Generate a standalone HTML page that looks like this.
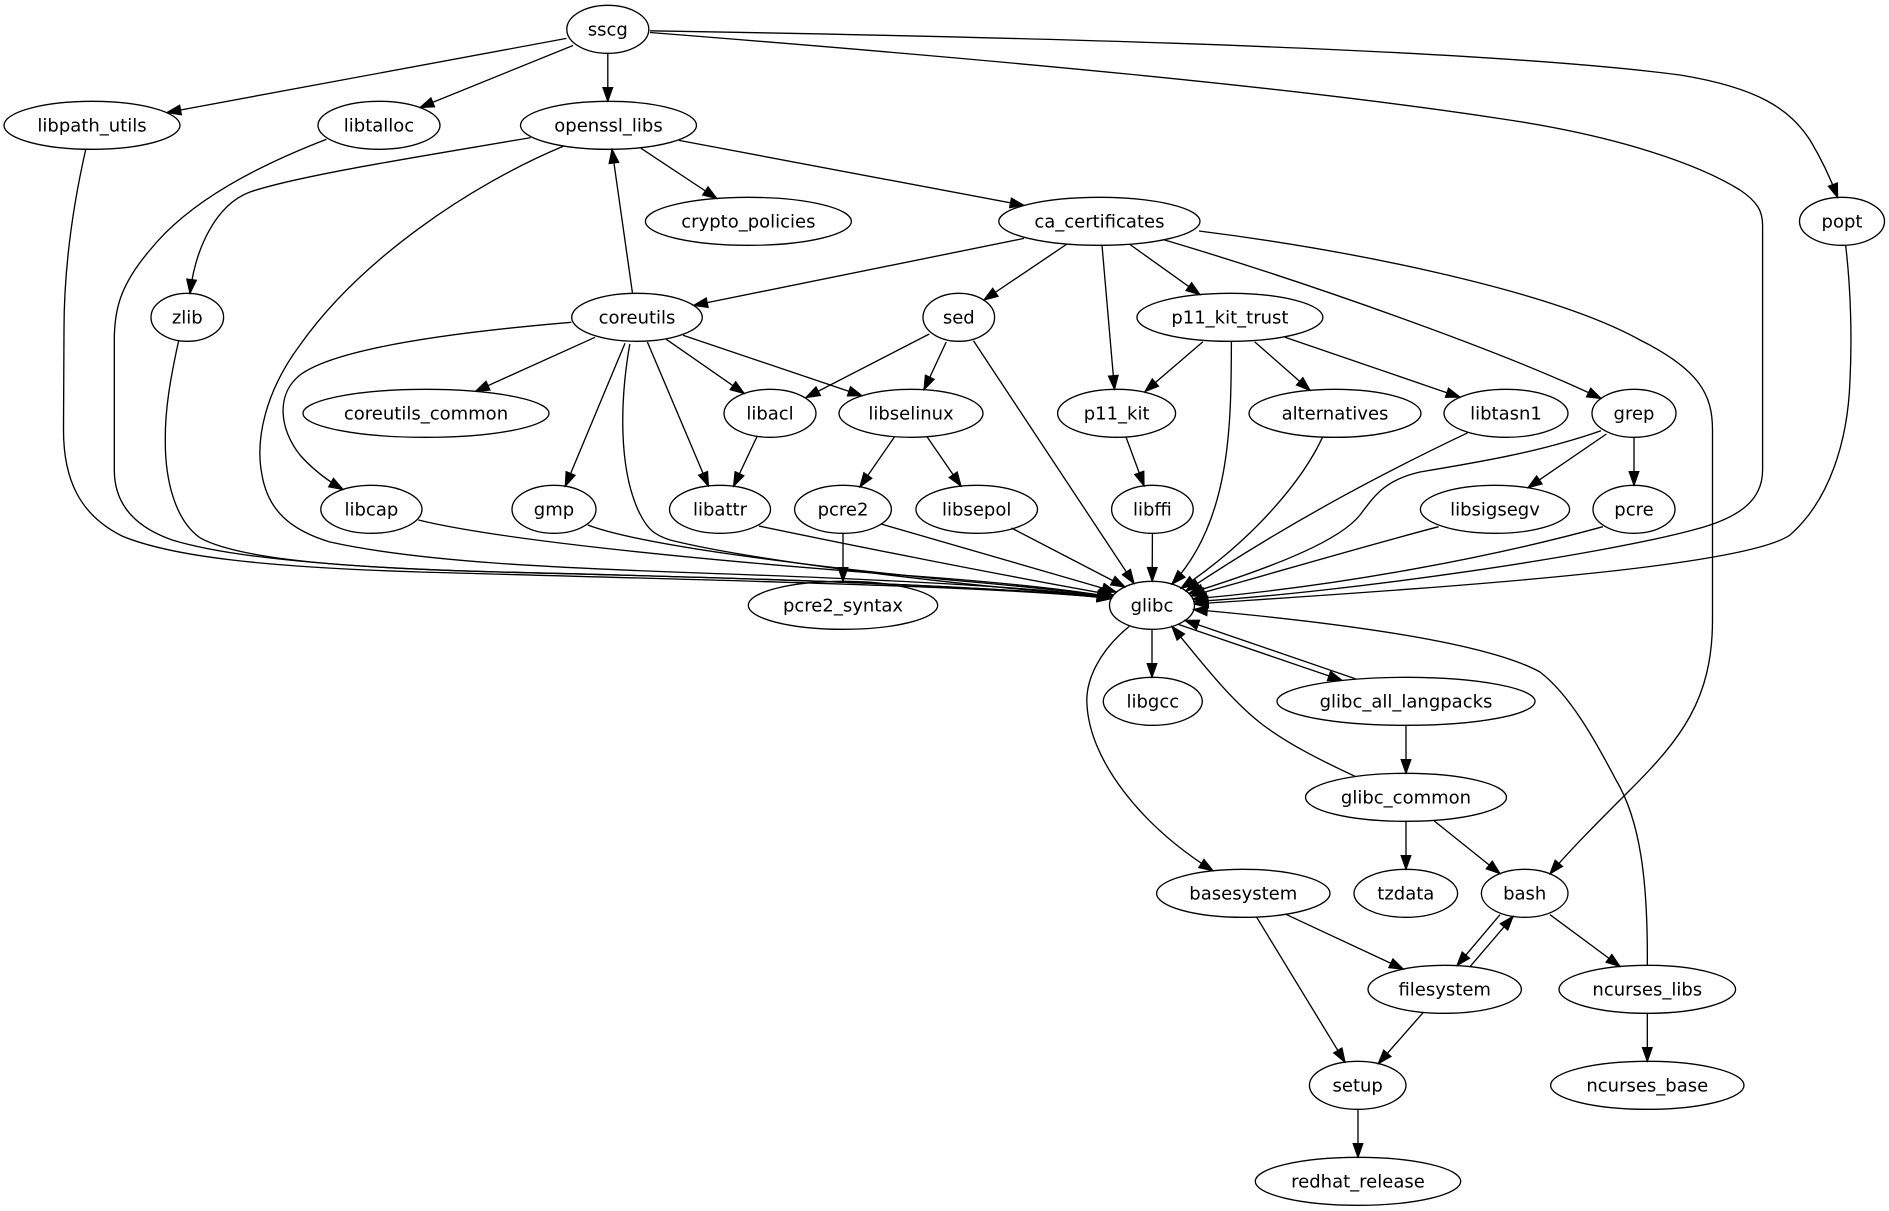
<!DOCTYPE html>
<html><head><meta charset="utf-8"><style>
html,body{margin:0;padding:0;background:#fff;}
svg{display:block;}
text{font-family:"DejaVu Sans","Liberation Sans",sans-serif;font-size:18px;text-anchor:middle;fill:#000;}
.n ellipse{fill:none;stroke:#000;stroke-width:1.33;}
.e path{fill:none;stroke:#000;stroke-width:1.33;marker-end:url(#ah);}
</style></head><body>
<svg width="1889" height="1211" viewBox="0 0 1889 1211" xmlns="http://www.w3.org/2000/svg">
<defs>
<marker id="ah" markerUnits="userSpaceOnUse" markerWidth="16" markerHeight="12" viewBox="-1 -1 15.5 11.5" refX="13.3" refY="4.67" orient="auto">
<path d="M0,0 L13.3,4.67 L0,9.33 Z" fill="#000" stroke="#000" stroke-width="1.2"/>
</marker>
</defs>
<g class="e">
<path d="M566.5,38.4 L167,112.5"/>
<path d="M573,45.5 L420,107.5"/>
<path d="M607.8,53.3 L607.8,101.3"/>
<path d="M650,32.5 C1000,60 1300,88 1500,118.6 C1620,136 1700,165 1740,190 C1758,202 1762.6,212 1762.6,225 L1762.6,470 C1762.6,500 1740,518 1693,530 C1600,555 1350,592 1194.3,601.6"/>
<path d="M650,30.8 C900,35 1450,45 1680,75 C1760,88 1790,110 1810,140 C1825,165 1833,185 1837.6,197.5"/>
<path d="M530.6,137.6 C430,155 300,175 250,192 C215,205 195,250 190,293.3"/>
<path d="M563.3,146.3 C470,185 360,260 300,345 C265,392 255,440 262,475 C268,510 290,530 330,542 C420,562 560,568 700,573 C900,580 1050,588 1111,598"/>
<path d="M641,148.3 L716.8,198.5"/>
<path d="M679,140.4 L1024,205.4"/>
<path d="M632.6,294 L612,149.3"/>
<path d="M1024,238.4 L693.7,305.4"/>
<path d="M1067,244 L984,300"/>
<path d="M1102,245.3 L1114.5,389.4"/>
<path d="M1130,244.5 L1200,294.6"/>
<path d="M1163,239.5 C1300,280 1500,350 1601,398.5"/>
<path d="M1199,231 C1350,250 1550,290 1640,340 C1700,370 1712.5,395 1712.5,430 L1712.5,620 C1712.5,700 1680,740 1630,790 C1600,820 1570,850 1550,873.8"/>
<path d="M571.4,322.3 C480,330 340,345 300,375 C275,395 280,430 300,455 C315,472 330,482 343,489.4"/>
<path d="M595,337.3 L475.5,391.3"/>
<path d="M625,343.2 L565.3,486.2"/>
<path d="M629.8,344 C620,400 618,470 640,514 C648,530 655,535 670,540 C750,560 950,585 1112,597"/>
<path d="M647.4,342 L708.4,486"/>
<path d="M666.3,339.3 L744.2,393.5"/>
<path d="M683,335.3 L862,395.7"/>
<path d="M929.3,334 L806,397.5"/>
<path d="M946.2,342 L924,389.7"/>
<path d="M973.5,340.8 L1134,583.5"/>
<path d="M1202.9,341.7 L1145,391.5"/>
<path d="M1231.4,341.7 C1231,420 1232,520 1172,584"/>
<path d="M1254.6,341.7 L1310,390.4"/>
<path d="M1285,337.3 L1460,397.2"/>
<path d="M756.8,437 L733.6,486.2"/>
<path d="M894.4,437 L860,486.8"/>
<path d="M927.2,437 L961,486.1"/>
<path d="M1126,437 L1144,485.8"/>
<path d="M1152.4,533.3 L1152.2,581.3"/>
<path d="M843,533.3 L843,581.3"/>
<path d="M881,524 L1116,592"/>
<path d="M1011.4,528 L1125,587"/>
<path d="M758.9,526 C850,545 1000,575 1113,595"/>
<path d="M418.4,520 C500,540 700,560 900,575 C1000,582 1070,590 1112,597"/>
<path d="M587.8,525 C640,545 800,565 950,580 C1030,587 1080,592 1112,597"/>
<path d="M85.7,149.5 C72,210 64,270 64,330 L63.5,430 C63.5,480 80,515 122,536 C170,556 260,567 420,572 C700,580 1000,586 1111,598.5"/>
<path d="M326.5,139.2 C260,165 190,200 150,250 C120,285 114.3,310 114.3,340 L114.3,470 C114.3,500 130,525 171.4,539.7 C230,558 350,568 500,572 C750,578 1000,586 1111,598.5"/>
<path d="M178.8,340 C170,380 165,410 165.3,440 C165,480 175,520 200,537.8 C240,560 350,568 500,572 C750,578 1000,586 1111,598.5"/>
<path d="M1322.5,437.3 C1305,475 1260,535 1181,588.3"/>
<path d="M1467.9,432.7 C1400,465 1300,515 1186,591"/>
<path d="M1601,430.7 C1540,452 1480,462 1420,472 C1385,480 1375,495 1360,515 C1340,540 1280,565 1189,593.5"/>
<path d="M1606.4,434 L1528,487.7"/>
<path d="M1634,437.3 L1634,485.3"/>
<path d="M1438.6,526.7 C1350,550 1250,580 1191,595.8"/>
<path d="M1602.9,526.7 C1500,555 1350,585 1193,599"/>
<path d="M1845.6,245 C1851,290 1852,340 1850,380 C1848,440 1830,500 1790,535 C1740,570 1400,590 1194.5,604"/>
<path d="M1152,629.3 L1152,677.3"/>
<path d="M1178,624.3 L1342,680.4"/>
<path d="M1356,679 L1185,620.3"/>
<path d="M1406,725.3 L1406,773.3"/>
<path d="M1356,776.8 C1320,760 1290,745 1263,725 C1230,700 1200,660 1172,626.5"/>
<path d="M1129.3,626.4 C1100,650 1085,680 1087,705 C1090,760 1140,825 1213,870.8"/>
<path d="M1406,821.3 L1406,869.3"/>
<path d="M1434.3,821 L1500,873.6"/>
<path d="M1647.3,965.3 C1648,880 1640,820 1616,780 C1595,740 1570,695 1540,672 C1500,650 1400,628 1193.5,609.5"/>
<path d="M1286.7,914.7 L1403.3,969.1"/>
<path d="M1256.7,917.3 L1345,1062.2"/>
<path d="M1500,914.7 L1457,965.6"/>
<path d="M1470,966.7 L1513,916.4"/>
<path d="M1550,914.7 L1620,966.5"/>
<path d="M1423.3,1012.4 L1378.3,1063.6"/>
<path d="M1358,1109.3 L1358,1157.3"/>
<path d="M1647.3,1013.3 L1647.3,1061.3"/>
</g>
<g class="n">
<ellipse cx="607.8" cy="29.33" rx="41" ry="24"/><text x="607.8" y="35.6">sscg</text>
<ellipse cx="92" cy="125.33" rx="88" ry="24"/><text x="92" y="131.6">libpath_utils</text>
<ellipse cx="379" cy="125.33" rx="61" ry="24"/><text x="379" y="131.6">libtalloc</text>
<ellipse cx="608.5" cy="125.33" rx="88" ry="24"/><text x="608.5" y="131.6">openssl_libs</text>
<ellipse cx="748.4" cy="221.33" rx="103" ry="24"/><text x="748.4" y="227.6">crypto_policies</text>
<ellipse cx="1099.4" cy="221.33" rx="100.6" ry="24"/><text x="1099.4" y="227.6">ca_certificates</text>
<ellipse cx="1842" cy="221.33" rx="42.5" ry="24"/><text x="1842" y="227.6">popt</text>
<ellipse cx="187.3" cy="317.33" rx="36.3" ry="24"/><text x="187.3" y="323.6">zlib</text>
<ellipse cx="637" cy="317.33" rx="65.3" ry="24"/><text x="637" y="323.6">coreutils</text>
<ellipse cx="958.8" cy="317.33" rx="35.8" ry="24"/><text x="958.8" y="323.6">sed</text>
<ellipse cx="1229.9" cy="317.33" rx="93" ry="24"/><text x="1229.9" y="323.6">p11_kit_trust</text>
<ellipse cx="426" cy="413.33" rx="123" ry="24"/><text x="426" y="419.6">coreutils_common</text>
<ellipse cx="770" cy="413.33" rx="46" ry="24"/><text x="770" y="419.6">libacl</text>
<ellipse cx="911" cy="413.33" rx="72" ry="24"/><text x="911" y="419.6">libselinux</text>
<ellipse cx="1116.6" cy="413.33" rx="59" ry="24"/><text x="1116.6" y="419.6">p11_kit</text>
<ellipse cx="1335" cy="413.33" rx="86" ry="24"/><text x="1335" y="419.6">alternatives</text>
<ellipse cx="1506" cy="413.33" rx="62" ry="24"/><text x="1506" y="419.6">libtasn1</text>
<ellipse cx="1634" cy="413.33" rx="42" ry="24"/><text x="1634" y="419.6">grep</text>
<ellipse cx="371.4" cy="509.33" rx="50.6" ry="24"/><text x="371.4" y="515.6">libcap</text>
<ellipse cx="554" cy="509.33" rx="42" ry="24"/><text x="554" y="515.6">gmp</text>
<ellipse cx="720" cy="509.33" rx="50.5" ry="24"/><text x="720" y="515.6">libattr</text>
<ellipse cx="843" cy="509.33" rx="48.4" ry="24"/><text x="843" y="515.6">pcre2</text>
<ellipse cx="976.7" cy="509.33" rx="60.8" ry="24"/><text x="976.7" y="515.6">libsepol</text>
<ellipse cx="1152.4" cy="509.33" rx="40.8" ry="24"/><text x="1152.4" y="515.6">libffi</text>
<ellipse cx="1495" cy="509.33" rx="74.6" ry="24"/><text x="1495" y="515.6">libsigsegv</text>
<ellipse cx="1634" cy="509.33" rx="41" ry="24"/><text x="1634" y="515.6">pcre</text>
<ellipse cx="843" cy="605.33" rx="94.7" ry="24"/><text x="843" y="611.6">pcre2_syntax</text>
<ellipse cx="1152" cy="605.33" rx="42.5" ry="24"/><text x="1152" y="611.6">glibc</text>
<ellipse cx="1152.8" cy="701.33" rx="49.5" ry="24"/><text x="1152.8" y="707.6">libgcc</text>
<ellipse cx="1406" cy="701.33" rx="129" ry="24"/><text x="1406" y="707.6">glibc_all_langpacks</text>
<ellipse cx="1406" cy="797.33" rx="100.5" ry="24"/><text x="1406" y="803.6">glibc_common</text>
<ellipse cx="1243.3" cy="893.33" rx="86.7" ry="24"/><text x="1243.3" y="899.6">basesystem</text>
<ellipse cx="1405.8" cy="893.33" rx="51.8" ry="24"/><text x="1405.8" y="899.6">tzdata</text>
<ellipse cx="1524.7" cy="893.33" rx="43.3" ry="24"/><text x="1524.7" y="899.6">bash</text>
<ellipse cx="1444.7" cy="989.33" rx="76.7" ry="24"/><text x="1444.7" y="995.6">filesystem</text>
<ellipse cx="1647.3" cy="989.33" rx="88.3" ry="24"/><text x="1647.3" y="995.6">ncurses_libs</text>
<ellipse cx="1357.7" cy="1085.33" rx="48.3" ry="24"/><text x="1357.7" y="1091.6">setup</text>
<ellipse cx="1647.3" cy="1085.33" rx="96.7" ry="24"/><text x="1647.3" y="1091.6">ncurses_base</text>
<ellipse cx="1358" cy="1181.33" rx="102.7" ry="24"/><text x="1358" y="1187.6">redhat_release</text>
</g>
</svg>
</body></html>
